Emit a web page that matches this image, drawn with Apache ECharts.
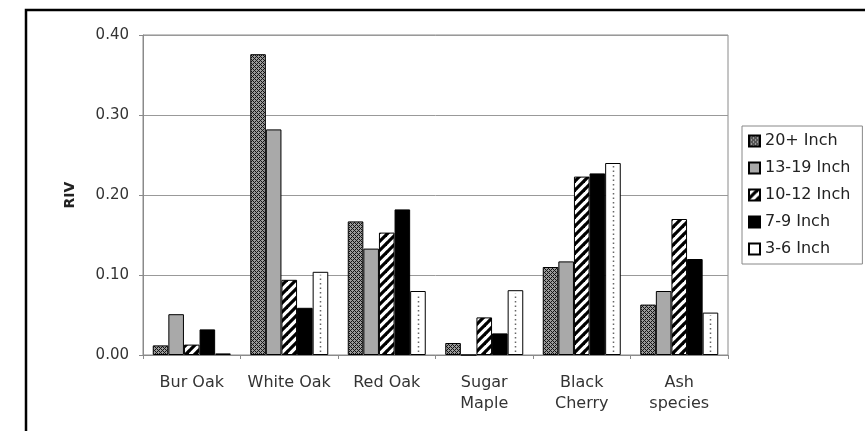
<!DOCTYPE html>
<html>
<head>
<meta charset="utf-8">
<script src="https://cdn.jsdelivr.net/npm/echarts@6/dist/echarts.min.js"></script>
<style>
  html, body { margin: 0; padding: 0; background: #fff; }
  #chart { width: 865px; height: 431px; }
</style>
</head>
<body>
<div id="chart"></div>
<script>
// Relative importance values by tree species and diameter class
const categories = ['Bur Oak', 'White Oak', 'Red Oak', 'Sugar\nMaple', 'Black\nCherry', 'Ash\nspecies'];
const sizeClasses = ['20+ Inch', '13-19 Inch', '10-12 Inch', '7-9 Inch', '3-6 Inch'];
const riv20plus = [0.012, 0.376, 0.167, 0.015, 0.110, 0.063];
const riv13to19 = [0.051, 0.282, 0.133, 0.000, 0.117, 0.080];
const riv10to12 = [0.013, 0.094, 0.153, 0.047, 0.223, 0.170];
const riv7to9   = [0.032, 0.059, 0.182, 0.027, 0.227, 0.120];
const riv3to6   = [0.002, 0.104, 0.080, 0.081, 0.240, 0.053];
const yTicks = [0, 0.1, 0.2, 0.3, 0.4];

// Fill patterns
function crossHatch() {
  const c = document.createElement('canvas');
  c.width = 4; c.height = 4;
  const g = c.getContext('2d');
  g.fillStyle = '#9a9a9a';
  g.fillRect(0, 0, 4, 4);
  g.fillStyle = '#141414';
  for (let x = 0; x < 4; x++) {
    for (let y = 0; y < 4; y++) {
      if ((x + y) % 4 === 0 || ((x - y) + 4) % 4 === 0) g.fillRect(x, y, 1, 1);
    }
  }
  return c;
}
function wideStripes() {
  const c = document.createElement('canvas');
  c.width = 9; c.height = 9;
  const g = c.getContext('2d');
  g.fillStyle = '#fff';
  g.fillRect(0, 0, 9, 9);
  g.strokeStyle = '#000';
  g.lineWidth = 3.2;
  for (const x0 of [-9, 0, 9]) {
    g.beginPath();
    g.moveTo(x0 - 1, 10);
    g.lineTo(x0 + 10, -1);
    g.stroke();
  }
  return c;
}

const fills = [
  { image: crossHatch(), repeat: 'repeat' },
  '#a9a9a9',
  { image: wideStripes(), repeat: 'repeat' },
  '#000000',
  '#ffffff'
];
const seriesValues = [riv20plus, riv13to19, riv10to12, riv7to9, riv3to6];

const barSeries = sizeClasses.map((name, i) => ({
  name: name,
  type: 'bar',
  data: seriesValues[i],
  barGap: '0%',
  barCategoryGap: '20%',
  itemStyle: { color: fills[i], borderColor: '#000', borderWidth: 1 },
  emphasis: { disabled: true },
  z: 2
}));

// Dotted centre line inside the smallest-diameter bars
barSeries.push({
  name: 'dots',
  type: 'custom',
  silent: true,
  z: 3,
  data: riv3to6.map((v, i) => [i, v]),
  renderItem: function (params, api) {
    const idx = api.value(0), val = api.value(1);
    const base = api.coord([idx, 0]);
    const top = api.coord([idx, val]);
    const band = api.size([1, 0])[0];
    const bw = band * 0.8 / 5;
    const x = Math.round(base[0] + 2 * bw) + 0.5;
    if (base[1] - top[1] < 6) return null;
    return {
      type: 'line',
      shape: { x1: x, y1: base[1] - 3, x2: x, y2: top[1] + 3 },
      style: { stroke: '#666', lineWidth: 1.5, lineDash: [1.5, 3] }
    };
  }
});

const chart = echarts.init(document.getElementById('chart'), null, { renderer: 'canvas' });
chart.setOption({
  backgroundColor: '#fff',
  animation: false,
  textStyle: { fontFamily: 'DejaVu Sans, sans-serif' },
  graphic: [{
    type: 'rect',
    shape: { x: 26, y: 10, width: 1000, height: 1000 },
    style: { fill: 'none', stroke: '#000', lineWidth: 2.5 },
    silent: true
  }],
  grid: {
    left: 143, top: 35, right: 137, bottom: 76,
    show: true, borderColor: '#8a8a8a', borderWidth: 1, backgroundColor: 'transparent'
  },
  legend: {
    data: sizeClasses,
    orient: 'vertical',
    left: 742, top: 126,
    padding: [7, 12, 7, 6],
    itemWidth: 11, itemHeight: 11,
    itemGap: 11,
    borderColor: '#888', borderWidth: 1,
    icon: 'rect',
    textStyle: { fontSize: 16, lineHeight: 16, color: '#222' },
    selectedMode: false
  },
  xAxis: {
    type: 'category',
    data: categories,
    boundaryGap: true,
    axisLine: { lineStyle: { color: '#8a8a8a' } },
    axisTick: { show: true, length: 4, lineStyle: { color: '#8a8a8a' } },
    axisLabel: { fontSize: 16, color: '#333', lineHeight: 21, margin: 17, interval: 0 }
  },
  yAxis: {
    type: 'value',
    min: yTicks[0], max: yTicks[yTicks.length - 1], interval: 0.1,
    name: 'RIV',
    nameLocation: 'middle',
    nameRotate: 90,
    nameGap: 66,
    nameTextStyle: { fontSize: 14, fontWeight: 'bold', color: '#222' },
    axisLine: { show: true, lineStyle: { color: '#8a8a8a' } },
    axisTick: { show: true, length: 4, lineStyle: { color: '#8a8a8a' } },
    axisLabel: { fontSize: 15, color: '#333', margin: 14, formatter: v => v.toFixed(2) },
    splitLine: { show: true, lineStyle: { color: '#999', width: 1 } }
  },
  series: barSeries
});
</script>
</body>
</html>
